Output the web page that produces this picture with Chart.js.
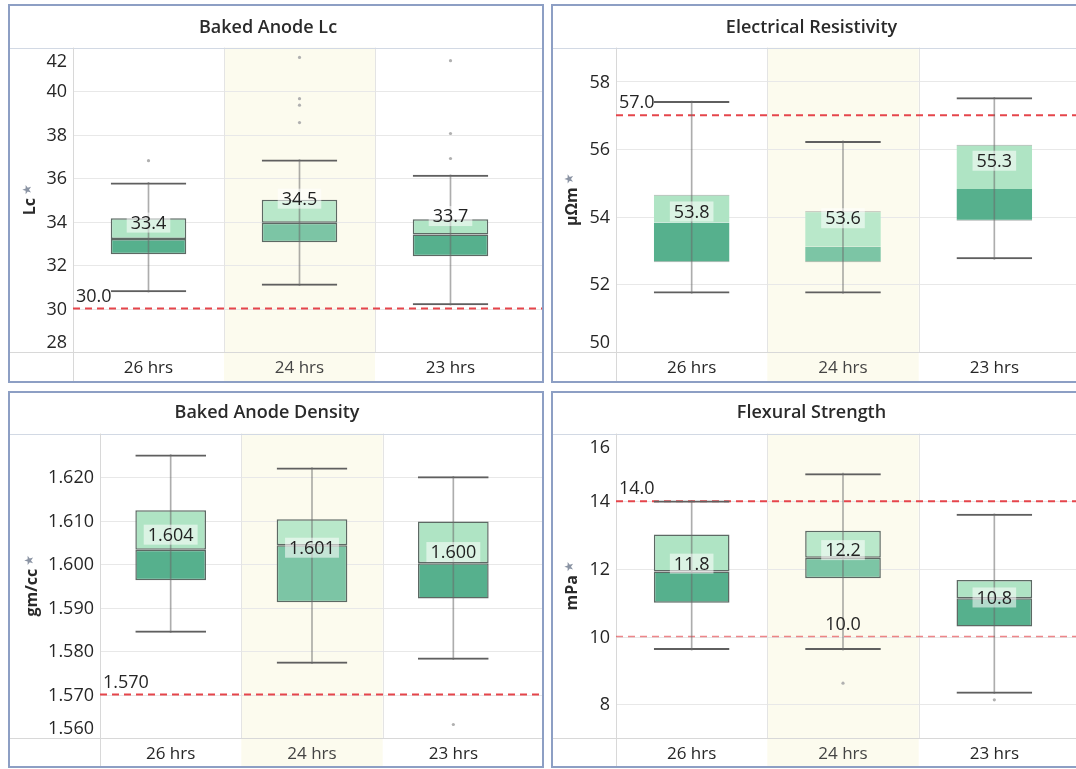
<!DOCTYPE html>
<html>
<head>
<meta charset="utf-8">
<title>Anode quality by baking time</title>
<script src="https://cdn.jsdelivr.net/npm/chart.js@4.4.1/dist/chart.umd.min.js"></script>
<style>
  html, body { margin: 0; padding: 0; background: #fff; overflow: hidden; }
  body { width: 1076px; height: 769px; position: relative; }
  .panel { position: absolute; border: 2px solid #8d9fc4; background: #fff; }
  .panel canvas { display: block; }
</style>
</head>
<body>
<div class="panel" style="left:8px;top:4px;width:532px;height:375px"><canvas id="lcChart" width="532" height="375"></canvas></div>
<div class="panel" style="left:551px;top:4px;width:526px;height:375px"><canvas id="erChart" width="526" height="375"></canvas></div>
<div class="panel" style="left:8px;top:391px;width:532px;height:373px"><canvas id="dnChart" width="532" height="373"></canvas></div>
<div class="panel" style="left:551px;top:391px;width:526px;height:373px"><canvas id="fsChart" width="526" height="373"></canvas></div>

<script>
const categories = ['26 hrs', '24 hrs', '23 hrs'];

// Baked Anode Lc
const lcLow = [30.75, 31.05, 30.15];
const lcQ1 = [32.5, 33.05, 32.4];
const lcMedian = [33.2, 33.95, 33.4];
const lcQ3 = [34.15, 35.0, 34.1];
const lcHigh = [35.8, 36.85, 36.15];
const lcMean = [33.4, 34.5, 33.7];
const lcOutliers = [[36.8], [41.55, 39.65, 39.35, 38.55], [41.4, 38.05, 36.9]];
const lcTicks = [28, 30, 32, 34, 36, 38, 40, 42];
const lcLimits = [30.0];

// Electrical Resistivity
const erLow = [51.73, 51.73, 52.74];
const erQ1 = [52.65, 52.65, 53.88];
const erMedian = [53.83, 53.12, 54.82];
const erQ3 = [54.65, 54.16, 56.13];
const erHigh = [57.42, 56.24, 57.53];
const erMean = [53.8, 53.6, 55.3];
const erOutliers = [[], [], []];
const erTicks = [50, 52, 54, 56, 58];
const erLimits = [57.0];

// Baked Anode Density
const dnLow = [1.5842, 1.5771, 1.578];
const dnQ1 = [1.5963, 1.5912, 1.5921];
const dnMedian = [1.6033, 1.6043, 1.6002];
const dnQ3 = [1.6124, 1.6103, 1.6098];
const dnHigh = [1.6252, 1.6222, 1.6202];
const dnMean = [1.604, 1.601, 1.600];
const dnOutliers = [[], [], [1.5631]];
const dnTicks = [1.56, 1.57, 1.58, 1.59, 1.60, 1.61, 1.62];
const dnLimits = [1.570];

// Flexural Strength
const fsLow = [9.6, 9.6, 8.31];
const fsQ1 = [11.0, 11.72, 10.3];
const fsMedian = [11.92, 12.33, 11.13];
const fsQ3 = [13.02, 13.13, 11.67];
const fsHigh = [14.02, 14.83, 13.63];
const fsMean = [11.8, 12.2, 10.8];
const fsOutliers = [[], [8.62], [8.13]];
const fsTicks = [8, 10, 12, 14, 16];
const fsLimits = [14.0, 10.0];

const upperFill = ['#afe4c4', '#b9e8ca', '#afe4c4'];
const lowerFill = ['#56b08d', '#7cc5a5', '#56b08d'];
const xLabelColors = ['#262626', '#444', '#262626'];

Chart.defaults.font.family = "'Open Sans', sans-serif";

function hline(ctx, x1, x2, y) {
    ctx.beginPath(); ctx.moveTo(x1, y); ctx.lineTo(x2, y); ctx.stroke();
}
function vline(ctx, x, y1, y2) {
    ctx.beginPath(); ctx.moveTo(x, y1); ctx.lineTo(x, y2); ctx.stroke();
}

// background band, grid, reference lines, labels
function makeExtras(c) {
    return {
        id: 'boxExtras',
        beforeDraw(chart) {
            const {ctx, chartArea: a, scales: {x, y}} = chart;
            const step = x.getPixelForValue(1) - x.getPixelForValue(0);
            ctx.save();
            ctx.fillStyle = '#fcfbee';
            ctx.fillRect(x.getPixelForValue(1) - step / 2, a.top, step, chart.height - a.top);
            ctx.lineWidth = 1;
            ctx.strokeStyle = '#e8e8e8';
            c.ticks.forEach(v => hline(ctx, a.left, chart.width, Math.round(y.getPixelForValue(v)) + 0.5));
            ctx.strokeStyle = '#e4e4e4';
            for (let i = 1; i < categories.length; i++) {
                vline(ctx, Math.round(x.getPixelForValue(i) - step / 2) + 0.5, a.top, a.bottom);
            }
            ctx.strokeStyle = '#d2d9e4';
            hline(ctx, 0, chart.width, Math.round(a.top) + 0.5);
            ctx.strokeStyle = '#d8d8d8';
            hline(ctx, 0, chart.width, Math.round(a.bottom) + 0.5);
            vline(ctx, Math.round(a.left) + 0.5, a.top, chart.height);
            ctx.restore();
        },
        beforeDatasetsDraw(chart) {
            const {ctx, chartArea: a, scales: {y}} = chart;
            ctx.save();
            ctx.setLineDash([7, 5]);
            c.limits.forEach((v, k) => {
                ctx.strokeStyle = k === 0 ? '#e5454b' : 'rgba(229,69,75,0.65)';
                ctx.lineWidth = k === 0 ? 2 : 1.6;
                hline(ctx, a.left, chart.width, y.getPixelForValue(v));
            });
            ctx.restore();
        },
        afterDatasetsDraw(chart) {
            const {ctx, chartArea: a, scales: {x, y}} = chart;
            ctx.save();
            ctx.textBaseline = 'middle';
            ctx.font = "18px 'Open Sans'";

            // mean labels
            ctx.textAlign = 'center';
            c.mean.forEach((m, i) => {
                const txt = m.toFixed(c.decimals);
                const cx = x.getPixelForValue(i);
                const cy = y.getPixelForValue(m) - 12;
                const w = ctx.measureText(txt).width + 8;
                ctx.fillStyle = 'rgba(255,255,255,0.55)';
                ctx.fillRect(cx - w / 2, cy - 10, w, 20);
                ctx.fillStyle = '#222';
                ctx.fillText(txt, cx, cy + 1);
            });

            // reference line labels
            c.limits.forEach((v, k) => {
                const at = c.limitLabelAt[k];
                const py = y.getPixelForValue(v) - 12;
                ctx.fillStyle = '#262626';
                if (at === 'left') {
                    ctx.textAlign = 'left';
                    ctx.fillText(v.toFixed(c.decimals), a.left + 3, py);
                } else {
                    ctx.textAlign = 'center';
                    ctx.fillText(v.toFixed(c.decimals), x.getPixelForValue(at), py);
                }
            });

            // y tick labels, kept inside the pane
            ctx.textAlign = 'right';
            ctx.fillStyle = '#262626';
            c.ticks.forEach(v => {
                let py = y.getPixelForValue(v);
                py = Math.min(Math.max(py, a.top + 13), a.bottom - 10);
                ctx.fillText(v.toFixed(c.tickDecimals), a.left - 6, py + 1);
            });

            // category labels
            ctx.textAlign = 'center';
            ctx.font = "17px 'Open Sans'";
            categories.forEach((lab, i) => {
                ctx.fillStyle = xLabelColors[i];
                ctx.fillText(lab, x.getPixelForValue(i), a.bottom + 16);
            });

            // y axis title with sort star
            ctx.translate(c.titleX, (a.top + a.bottom) / 2);
            ctx.rotate(-Math.PI / 2);
            ctx.textAlign = 'left';
            ctx.font = "bold 16px 'Open Sans'";
            const tw = ctx.measureText(c.yTitle).width;
            ctx.font = "12px 'DejaVu Sans'";
            const sw = ctx.measureText('★').width;
            const start = -(tw + 3 + sw) / 2;
            ctx.font = "bold 16px 'Open Sans'";
            ctx.fillStyle = '#2a2a2a';
            ctx.fillText(c.yTitle, start, 0);
            ctx.font = "12px 'DejaVu Sans'";
            ctx.fillStyle = '#8a93a3';
            ctx.fillText('★', start + tw + 3, -2);
            ctx.restore();
        }
    };
}

function boxChart(id, c) {
    const pairs = (a, b) => a.map((v, i) => [v, b[i]]);
    return new Chart(document.getElementById(id), {
        type: 'bar',
        data: {
            labels: categories,
            datasets: [
                {
                    label: 'spread',
                    data: pairs(c.low, c.high),
                    backgroundColor: 'rgba(105,105,105,0.55)',
                    barThickness: 1,
                    order: 0
                },
                {
                    type: 'line',
                    label: 'outliers',
                    data: c.outliers.flatMap((arr, i) => arr.map(v => ({x: categories[i], y: v}))),
                    showLine: false,
                    pointRadius: 1.6,
                    pointBackgroundColor: '#b0b0b0',
                    pointBorderWidth: 0,
                    order: 1
                },
                {
                    label: 'median to Q3',
                    data: pairs(c.median, c.q3),
                    backgroundColor: upperFill,
                    borderColor: c.edge,
                    borderWidth: c.upperBorder,
                    borderSkipped: false,
                    order: 2
                },
                {
                    label: 'Q1 to median',
                    data: pairs(c.q1, c.median),
                    backgroundColor: lowerFill,
                    borderColor: c.edge,
                    borderWidth: c.lowerBorder,
                    borderSkipped: false,
                    order: 3
                },
                {
                    label: 'whiskers',
                    data: pairs(c.low, c.high),
                    backgroundColor: 'rgba(0,0,0,0)',
                    borderColor: '#5f5f5f',
                    borderWidth: {top: 2, bottom: 2, left: 0, right: 0},
                    borderSkipped: false,
                    order: 4
                }
            ]
        },
        options: {
            responsive: false,
            animation: false,
            events: [],
            layout: { padding: { right: c.padRight } },
            datasets: {
                bar: { grouped: false, barPercentage: 0.5, categoryPercentage: 1 }
            },
            plugins: {
                legend: { display: false },
                tooltip: { enabled: false },
                title: {
                    display: true,
                    text: c.title,
                    color: '#2a2a2a',
                    font: { size: 18, weight: '600' },
                    padding: { top: c.titleTop, bottom: c.titleBottom }
                }
            },
            scales: {
                x: {
                    offset: true,
                    grid: { display: false },
                    border: { display: false },
                    ticks: { display: false },
                    afterFit: s => { s.height = c.xHeight; }
                },
                y: {
                    min: c.min,
                    max: c.max,
                    afterBuildTicks: s => { s.ticks = c.ticks.map(v => ({value: v})); },
                    ticks: { display: false },
                    grid: { display: false },
                    border: { display: false },
                    afterFit: s => { s.width = c.yWidth; }
                }
            }
        },
        plugins: [makeExtras(c)]
    });
}

const fullEdge = {top: 1.5, bottom: 1.5, left: 1.5, right: 1.5};

boxChart('lcChart', {
    title: 'Baked Anode Lc', yTitle: 'Lc',
    low: lcLow, q1: lcQ1, median: lcMedian, q3: lcQ3, high: lcHigh, mean: lcMean, outliers: lcOutliers,
    ticks: lcTicks, limits: lcLimits, limitLabelAt: ['left'],
    min: 28, max: 42, decimals: 1, tickDecimals: 0,
    edge: '#5d6964', upperBorder: fullEdge, lowerBorder: fullEdge,
    yWidth: 63, padRight: 16, titleTop: 11, titleBottom: 9, xHeight: 29, titleX: 20
});

boxChart('erChart', {
    title: 'Electrical Resistivity', yTitle: 'µΩm',
    low: erLow, q1: erQ1, median: erMedian, q3: erQ3, high: erHigh, mean: erMean, outliers: erOutliers,
    ticks: erTicks, limits: erLimits, limitLabelAt: ['left'],
    min: 50, max: 59, decimals: 1, tickDecimals: 0,
    edge: 'rgba(95,105,100,0.55)',
    upperBorder: {top: 1, bottom: 0, left: 0, right: 0},
    lowerBorder: {top: 0, bottom: 1, left: 0, right: 0},
    yWidth: 63, padRight: 9, titleTop: 11, titleBottom: 9, xHeight: 29, titleX: 19
});

boxChart('dnChart', {
    title: 'Baked Anode Density', yTitle: 'gm/cc',
    low: dnLow, q1: dnQ1, median: dnMedian, q3: dnQ3, high: dnHigh, mean: dnMean, outliers: dnOutliers,
    ticks: dnTicks, limits: dnLimits, limitLabelAt: ['left'],
    min: 1.56, max: 1.63, decimals: 3, tickDecimals: 3,
    edge: '#5d6964', upperBorder: fullEdge, lowerBorder: fullEdge,
    yWidth: 90, padRight: 18, titleTop: 9, titleBottom: 10, xHeight: 28, titleX: 22
});

boxChart('fsChart', {
    title: 'Flexural Strength', yTitle: 'mPa',
    low: fsLow, q1: fsQ1, median: fsMedian, q3: fsQ3, high: fsHigh, mean: fsMean, outliers: fsOutliers,
    ticks: fsTicks, limits: fsLimits, limitLabelAt: ['left', 1],
    min: 7, max: 16, decimals: 1, tickDecimals: 0,
    edge: '#5d6964', upperBorder: fullEdge, lowerBorder: fullEdge,
    yWidth: 63, padRight: 9, titleTop: 9, titleBottom: 10, xHeight: 28, titleX: 19
});
</script>
</body>
</html>
